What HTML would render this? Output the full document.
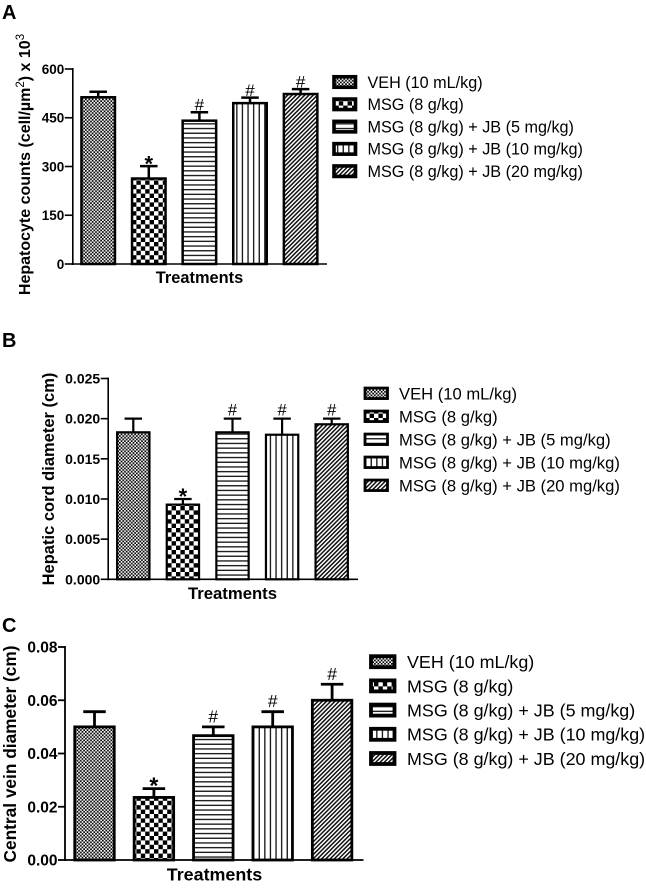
<!DOCTYPE html>
<html lang="en">
<head>
<meta charset="utf-8">
<title>Hepatic histomorphometry bar charts</title>
<style>
html,body{margin:0;padding:0;background:#fff}
svg{display:block;font-family:"Liberation Sans",Arial,sans-serif;filter:blur(0.3px)}
</style>
</head>
<body>
<svg id="figure" xmlns="http://www.w3.org/2000/svg" width="646" height="888" viewBox="0 0 646 888">
<defs>
<pattern id="p0" patternUnits="userSpaceOnUse" width="3.4" height="3.4"><rect width="3.4" height="3.4" fill="#fff"/><rect width="1.7" height="1.7" fill="#000"/><rect x="1.7" y="1.7" width="1.7" height="1.7" fill="#000"/></pattern>
<pattern id="p1" patternUnits="userSpaceOnUse" width="8.8" height="8.8"><rect width="8.8" height="8.8" fill="#fff"/><rect width="4.4" height="4.4" fill="#000"/><rect x="4.4" y="4.4" width="4.4" height="4.4" fill="#000"/></pattern>
<pattern id="p2" patternUnits="userSpaceOnUse" width="4.7" height="4.7"><rect width="4.7" height="4.7" fill="#fff"/><rect y="1" width="4.7" height="1.3" fill="#111"/></pattern>
<pattern id="p3" patternUnits="userSpaceOnUse" width="5.6" height="5.6"><rect width="5.6" height="5.6" fill="#fff"/><rect x="1" width="1.3" height="5.6" fill="#111"/></pattern>
<pattern id="p4" patternUnits="userSpaceOnUse" width="3" height="3" patternTransform="rotate(45)"><rect width="3" height="3" fill="#fff"/><rect width="1.5" height="3" fill="#111"/></pattern>
</defs>
<g id="panels"></g>
</svg>
<script>
const treatments = ['VEH (10 mL/kg)', 'MSG (8 g/kg)', 'MSG (8 g/kg) + JB (5 mg/kg)', 'MSG (8 g/kg) + JB (10 mg/kg)', 'MSG (8 g/kg) + JB (20 mg/kg)'];
const markers = ['', '*', '#', '#', '#'];

const hepatocyteValues = [513, 263, 441, 495, 523];
const hepatocyteErrors = [17, 38, 26, 17, 15];
const hepatocyteTicks = [0, 150, 300, 450, 600];
const hepatocyteTickLabels = ['0', '150', '300', '450', '600'];

const cordValues = [0.0183, 0.0093, 0.0183, 0.018, 0.0193];
const cordErrors = [0.0017, 0.0007, 0.0017, 0.002, 0.0007];
const cordTicks = [0, 0.005, 0.01, 0.015, 0.02, 0.025];
const cordTickLabels = ['0.000', '0.005', '0.010', '0.015', '0.020', '0.025'];

const veinValues = [0.05, 0.0235, 0.0467, 0.05, 0.06];
const veinErrors = [0.0057, 0.0033, 0.0033, 0.0057, 0.006];
const veinTicks = [0, 0.02, 0.04, 0.06, 0.08];
const veinTickLabels = ['0.00', '0.02', '0.04', '0.06', '0.08'];

const NS = 'http://www.w3.org/2000/svg';
const root = document.getElementById('panels');

function make(parent, tag, attrs, text) {
  const el = document.createElementNS(NS, tag);
  for (const k in attrs) el.setAttribute(k, attrs[k]);
  if (text !== undefined) el.textContent = text;
  parent.appendChild(el);
  return el;
}

function drawPanel(o) {
  const g = make(root, 'g', {});
  
  

  const yScale = v => o.y0 - (v / o.yMax) * (o.y0 - o.yTop);
  const xScale = i => o.x1 + i * o.step;

  const letter = make(g, 'text', {x: 2, y: o.letterY, 'font-size': 20, 'font-weight': 'bold'}, o.letter);
  
  

  // bars and error bars
  o.values.forEach((v, i) => {
    const cx = xScale(i);
    const top = yScale(v);
    const capY = yScale(v + o.errors[i]);

    const stem = make(g, 'line', {x1: cx, x2: cx, y1: top, y2: capY, stroke: '#000', 'stroke-width': o.sw});
    
    

    const cap = make(g, 'line', {x1: cx - o.cap / 2, x2: cx + o.cap / 2, y1: capY, y2: capY, stroke: '#000', 'stroke-width': o.sw});
    
    

    const bar = make(g, 'rect', {x: cx - o.bw / 2, y: top, width: o.bw, height: o.y0 - top, fill: 'url(#p' + i + ')', stroke: '#000', 'stroke-width': o.sw});
    
    

    if (markers[i]) {
      const isStar = markers[i] === '*';
      const mark = make(g, 'text', {
        x: cx, y: capY + (isStar ? o.starOff : o.hashOff), 'text-anchor': 'middle',
        'font-size': isStar ? o.starSize : o.hashSize, 'font-weight': isStar ? 'bold' : 'normal'
      }, markers[i]);
      
      
    }
  });

  // axes
  const yAxis = make(g, 'line', {x1: o.axisX, x2: o.axisX, y1: o.yTop - 1, y2: o.y0 + 1, stroke: '#000', 'stroke-width': o.axisW});
  
  

  const xAxis = make(g, 'line', {x1: o.axisX, x2: o.xEnd, y1: o.y0, y2: o.y0, stroke: '#000', 'stroke-width': o.axisW});
  
  

  o.ticks.forEach((t, i) => {
    const y = yScale(t);
    const tick = make(g, 'line', {x1: o.axisX - o.tickLen, x2: o.axisX, y1: y, y2: y, stroke: '#000', 'stroke-width': o.axisW});
    
    

    const label = make(g, 'text', {x: o.axisX - o.tickLen - 0.5, y: y + o.tickSize * 0.36, 'text-anchor': 'end', 'font-size': o.tickSize, 'font-weight': 'bold'}, o.tickLabels[i]);
    
    
  });

  // axis titles
  const xTitle = make(g, 'text', {x: o.xTitleX, y: o.xTitleY, 'text-anchor': 'middle', 'font-size': o.xTitleSize, 'font-weight': 'bold'}, 'Treatments');
  
  

  const yTitle = make(g, 'text', {
    transform: 'translate(' + o.yTitleX + ' ' + o.yTitleY + ') rotate(-90)',
    x: 0, y: 0, 'text-anchor': 'middle', 'font-size': o.yTitleSize, 'font-weight': 'bold'
  });
  
  
  o.yTitle.forEach(part => {
    if (part.sup) {
      make(yTitle, 'tspan', {dy: -6, 'font-size': o.yTitleSize * 0.72, 'font-weight': 'normal'}, part.t);
    } else {
      make(yTitle, 'tspan', part.after ? {dy: 6} : {}, part.t);
    }
  });

  // legend
  treatments.forEach((name, i) => {
    const cy = o.legendYs + i * o.legendStep;
    const swatch = make(g, 'rect', {x: o.swX, y: cy - o.swH / 2, width: o.swW, height: o.swH, fill: 'url(#p' + i + ')', stroke: '#000', 'stroke-width': o.swS});
    
    

    const entry = make(g, 'text', {x: o.legendX, y: cy + o.legendSize * 0.36, 'font-size': o.legendSize}, name);
    
    
  });
}

drawPanel({
  letter: 'A', letterY: 19,
  values: hepatocyteValues, errors: hepatocyteErrors, ticks: hepatocyteTicks, tickLabels: hepatocyteTickLabels,
  yMax: 600, y0: 264, yTop: 69, axisX: 72.8, xEnd: 327, tickLen: 8, tickSize: 13.5, axisW: 1.6,
  x1: 98.2, step: 50.6, bw: 33.5, cap: 17.5, sw: 2.5,
  hashSize: 17, hashOff: -1.5, starSize: 22, starOff: 5.5,
  xTitleX: 199.5, xTitleY: 283, xTitleSize: 16.4,
  yTitleX: 30, yTitleY: 164.5, yTitleSize: 16,
  yTitle: [{t: 'Hepatocyte counts (cell/µm'}, {t: '2', sup: true}, {t: ') x 10', after: true}, {t: '3', sup: true}],
  swX: 334, swW: 21.5, swH: 10.5, swS: 3.6, legendX: 367.5, legendYs: 82, legendStep: 22.3, legendSize: 16.2
});

drawPanel({
  letter: 'B', letterY: 347,
  values: cordValues, errors: cordErrors, ticks: cordTicks, tickLabels: cordTickLabels,
  yMax: 0.025, y0: 579.3, yTop: 378.5, axisX: 108.2, xEnd: 358, tickLen: 7.5, tickSize: 14, axisW: 1.6,
  x1: 133.3, step: 49.6, bw: 32.3, cap: 17.5, sw: 2.2,
  hashSize: 16.5, hashOff: -3, starSize: 22, starOff: 5,
  xTitleX: 232.5, xTitleY: 599, xTitleSize: 16.7,
  yTitleX: 54, yTitleY: 479, yTitleSize: 16.5,
  yTitle: [{t: 'Hepatic cord diameter (cm)'}],
  swX: 365, swW: 22.5, swH: 10.5, swS: 2.8, legendX: 399, legendYs: 393.3, legendStep: 23, legendSize: 16.6
});

drawPanel({
  letter: 'C', letterY: 632,
  values: veinValues, errors: veinErrors, ticks: veinTicks, tickLabels: veinTickLabels,
  yMax: 0.08, y0: 860, yTop: 647, axisX: 65, xEnd: 363.5, tickLen: 7, tickSize: 15.5, axisW: 1.8,
  x1: 94.5, step: 59.4, bw: 39.5, cap: 22.5, sw: 2.8,
  hashSize: 17.5, hashOff: -4.5, starSize: 23, starOff: 5,
  xTitleX: 214.5, xTitleY: 880.5, xTitleSize: 17.9,
  yTitleX: 16, yTitleY: 754, yTitleSize: 17.3,
  yTitle: [{t: 'Central vein diameter (cm)'}],
  swX: 371, swW: 23.5, swH: 11, swS: 3.8, legendX: 407, legendYs: 661.7, legendStep: 24.2, legendSize: 17.9
});
</script>
</body>
</html>
